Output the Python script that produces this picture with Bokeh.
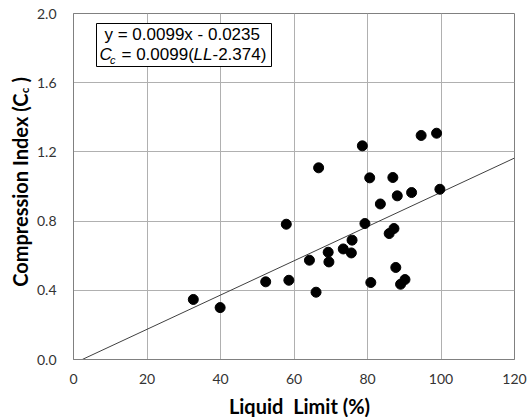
import math
from bokeh.plotting import figure
from bokeh.models import FixedTicker, NumeralTickFormatter, BoxAnnotation, Range1d
from bokeh.core.properties import value
from bokeh.embed import file_html
from bokeh.resources import INLINE

# Data
liquid_limit = [32.6, 39.9, 52.3, 58.6, 57.9, 66.7, 66.0, 64.2, 69.3, 69.5,
                73.4, 75.6, 75.8, 79.3, 78.6, 80.6, 80.9, 94.6, 98.8, 86.9,
                83.5, 88.1, 92.0, 99.7, 87.2, 85.9, 87.7, 90.2, 89.0]
comp_index = [0.347, 0.300, 0.449, 0.458, 0.782, 1.108, 0.389, 0.574, 0.620, 0.564,
              0.639, 0.616, 0.690, 0.786, 1.235, 1.050, 0.445, 1.295, 1.308, 1.052,
              0.899, 0.946, 0.965, 0.984, 0.757, 0.728, 0.532, 0.462, 0.435]
fit_slope = 0.0099
fit_intercept = -0.0235
x_ticks = [0, 20, 40, 60, 80, 100, 120]
y_ticks = [0.0, 0.4, 0.8, 1.2, 1.6, 2.0]

W, H = 527, 417
L, R, T, B = 73, 13, 13, 58
x0, x1, y0, y1 = 0, 120, 0.0, 2.0
fw, fh = W - L - R, H - T - B

def dx(px):
    return x0 + (px - L) / fw * (x1 - x0)

def dy(py):
    return y0 + (H - B - py) / fh * (y1 - y0)

p = figure(width=W, height=H, x_range=Range1d(x0, x1), y_range=Range1d(y0, y1),
           output_backend="svg", toolbar_location=None,
           min_border_left=L, min_border_right=R, min_border_top=T, min_border_bottom=B)
p.background_fill_color = "white"
p.border_fill_color = "white"
p.outline_line_color = "#808080"
p.outline_line_width = 1

grid_color = "#b0b0b0"
p.xgrid.ticker = FixedTicker(ticks=x_ticks)
p.ygrid.ticker = FixedTicker(ticks=y_ticks)
p.xgrid.grid_line_color = grid_color
p.ygrid.grid_line_color = grid_color

for ax in (p.xaxis, p.yaxis):
    ax.axis_line_color = "#808080"
    ax.major_tick_line_color = None
    ax.minor_tick_line_color = None
    ax.major_tick_out = 0
    ax.major_tick_in = 0
    ax.major_label_text_font = "Lato"
    ax.major_label_text_font_size = "14px"
    ax.major_label_text_color = "#333333"
p.xaxis.ticker = FixedTicker(ticks=x_ticks)
p.yaxis.ticker = FixedTicker(ticks=y_ticks)
p.yaxis.formatter = NumeralTickFormatter(format="0.0")
p.xaxis.major_label_standoff = 14
p.yaxis.major_label_standoff = 17

# trend line from the fit
lx = [-fit_intercept / fit_slope, x1]
ly = [fit_slope * v + fit_intercept for v in lx]
p.line(lx, ly, line_color="#404040", line_width=1)

p.scatter(liquid_limit, comp_index, size=10, fill_color="black", line_color="black")

# equation box
box = BoxAnnotation(left=dx(96), right=dx(271), top=dy(23), bottom=dy(66),
                    fill_color="white", fill_alpha=1.0, line_color="black", line_width=1,
                    line_alpha=1.0)
p.add_layout(box)

ef = "Liberation Sans"
es = "17px"
def lab(text, px, py, size=es, style="normal", align="left", angle=0, font=ef, color="black"):
    p.text(x=[dx(px)], y=[dy(py)], text=[text], text_font=value(font), text_font_size=size,
           text_font_style=style, text_align=align, text_baseline="middle",
           angle=angle, text_color=color, level="overlay")

lab("y = 0.0099x - 0.0235", 104, 34)
lab("C", 99, 54, style="italic")
lab("c", 109.5, 59, size="11px", style="italic")
lab("= 0.0099(", 121, 54)
lab("LL", 193, 54, style="italic")
lab("-2.374)", 212, 54)

# axis titles
tf = "Lato"
ts = "20px"
lab("Liquid\u00a0 Limit (%)", 299, 405, size=ts, style="bold", align="center", font=tf)
lab("Compression Index (C", 19.5, 93, size=ts, style="bold", align="right",
    angle=math.pi / 2, font=tf)
lab("c", 24, 92.5, size="11px", style="bold", align="left", angle=math.pi / 2, font=tf)
lab(")", 19.5, 82, size=ts, style="bold", align="left", angle=math.pi / 2, font=tf)

open("out.html", "w").write(file_html(p, INLINE))
